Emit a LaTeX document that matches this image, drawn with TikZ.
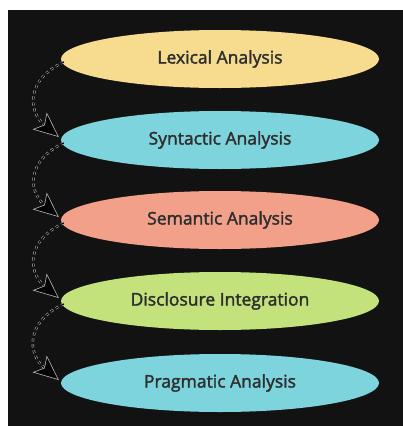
\documentclass[tikz,border=0pt]{standalone}
\usepackage{fontspec}
\setmainfont{Open Sans}
\newfontfamily\stagefont[FakeBold=2]{Open Sans}
\usetikzlibrary{shapes.geometric,arrows.meta}

\definecolor{lexcol}{HTML}{F7DC8F}
\definecolor{syncol}{HTML}{7DD4DC}
\definecolor{semcol}{HTML}{F2A08A}
\definecolor{discol}{HTML}{C3E27C}
\definecolor{pragcol}{HTML}{7DD4DC}

\begin{document}
\begin{tikzpicture}[x=1pt, y=-1pt,
	stage/.style={ellipse, minimum width=318pt, minimum height=58pt, inner sep=0pt, text=black!82, font=\stagefont\fontsize{17.5}{20}\selectfont},
	flow/.style={draw=gray!55, double=black, double distance=1.2pt, line width=0.6pt, dashed, -{Stealth[length=25pt, width=22pt, inset=6pt, fill=black]}}]

		\useasboundingbox (0,0) rectangle (403,426);
		\fill[white] (0,0) rectangle (403,426);
		\fill[black!93] (8,10) rectangle (403,426);

		\foreach \n/\y/\c/\t in {lex/59/lexcol/Lexical Analysis, syn/140/syncol/Syntactic Analysis, sem/220/semcol/Semantic Analysis, dis/301/discol/Disclosure Integration, prag/383/pragcol/Pragmatic Analysis}
		\node[stage, fill=\c] (\n) at (220,\y) {\t};

		\foreach \a/\b in {lex/syn, syn/sem, sem/dis, dis/prag}
		\draw[flow] ([shift={(3,3)}]\a.west) to[out=205, in=140, looseness=1.4] ([shift={(-2,-3)}]\b.west);
	\end{tikzpicture}
\end{document}
